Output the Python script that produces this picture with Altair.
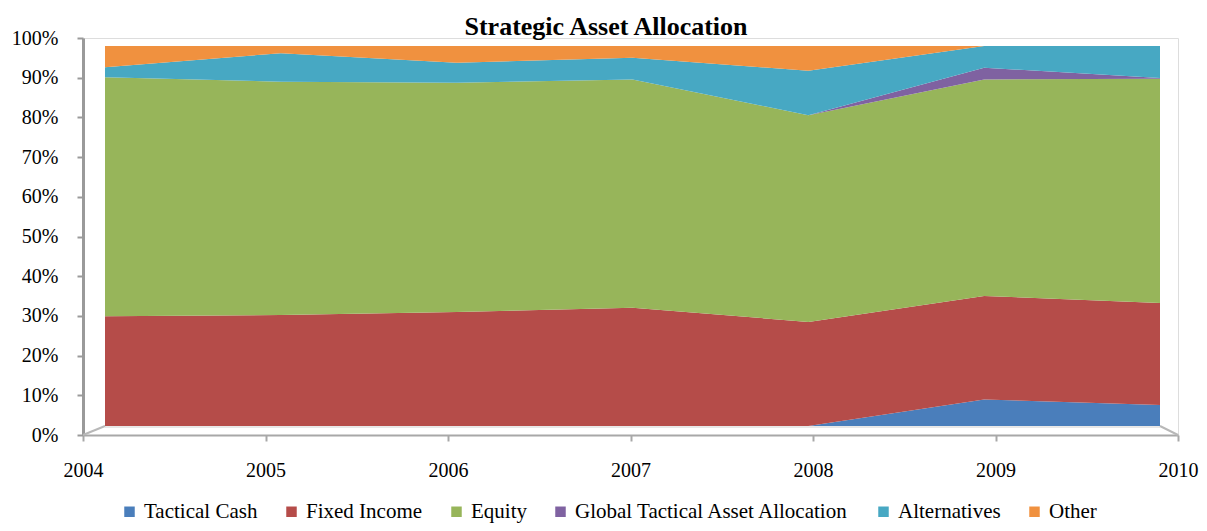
import altair as alt
import pandas as pd

# ---- data ----
years = [2004, 2005, 2006, 2007, 2008, 2009, 2010]
series = ["Tactical Cash", "Fixed Income", "Equity",
          "Global Tactical Asset Allocation", "Alternatives", "Other"]
tactical_cash = [0.0, 0.0, 0.0, 0.0, 0.0, 7.0, 5.5]
fixed_income = [28.9, 29.2, 30.0, 31.1, 27.4, 27.2, 26.9]
equity = [62.9, 61.4, 60.3, 60.1, 54.4, 57.0, 59.0]
gtaa = [0.0, 0.0, 0.0, 0.0, 0.0, 3.1, 0.2]
alternatives = [2.6, 7.5, 5.3, 5.7, 11.7, 5.7, 8.4]
other = [5.6, 1.9, 4.4, 3.1, 6.5, 0.0, 0.0]
colors = ["#4a7ebb", "#b54c49", "#97b55a", "#7f62a1", "#47a8c3", "#f0913f"]
y_ticks = [0, 10, 20, 30, 40, 50, 60, 70, 80, 90, 100]
title_text = "Strategic Asset Allocation"

values = [tactical_cash, fixed_income, equity, gtaa, alternatives, other]
rows = []
for i, (name, vals) in enumerate(zip(series, values)):
    for yr, v in zip(years, vals):
        rows.append({"year": yr, "series": name, "value": v, "idx": i})
df = pd.DataFrame(rows)

FONT = "Liberation Serif"
W, H = 1095, 397

# stacked areas drawn on the "back wall" of the 3-D plot
area = alt.Chart(df).mark_area(opacity=1).encode(
    x=alt.X("year:Q", axis=None,
            scale=alt.Scale(domain=[2004, 2010], range=[22, 1077], nice=False, zero=False)),
    y=alt.Y("value:Q", stack="normalize", axis=None,
            scale=alt.Scale(domain=[0, 1], range=[388, 8], nice=False)),
    color=alt.Color("series:N",
                    scale=alt.Scale(domain=series, range=colors),
                    sort=series,
                    legend=alt.Legend(
                        title=None, orient="none", direction="horizontal",
                        legendX=36, legendY=463, padding=0,
                        symbolType="square", symbolSize=110, symbolStrokeWidth=0,
                        labelFont=FONT, labelFontSize=21, labelColor="black",
                        labelOffset=4, labelLimit=400, columnPadding=23)),
    order=alt.Order("idx:Q", sort="ascending"),
)

# front axes (invisible points only carry the scales)
axes = alt.Chart(df).mark_point(opacity=0).encode(
    x=alt.X("year:Q",
            scale=alt.Scale(domain=[2004, 2010], nice=False, zero=False),
            axis=alt.Axis(values=years, format="d", title=None, grid=False,
                          labelFlush=False,
                          domainColor="#a8a8a8", domainWidth=2,
                          tickColor="#a8a8a8", tickWidth=2, tickSize=6,
                          labelFont=FONT, labelFontSize=20, labelColor="black",
                          labelPadding=19)),
    y=alt.Y("value:Q",
            scale=alt.Scale(domain=[0, 100], nice=False),
            axis=alt.Axis(values=y_ticks, labelExpr="datum.value + '%'", title=None,
                          grid=False, domainColor="#9a9a9a", domainWidth=3,
                          tickColor="#9a9a9a", tickWidth=2, tickSize=6,
                          labelFont=FONT, labelFontSize=20, labelColor="black",
                          labelPadding=19)),
)

deco = pd.DataFrame([{"k": 0}])
floor_left = alt.Chart(deco).mark_rule(color="#b8b8b8", strokeWidth=2).encode(
    x=alt.value(0), x2=alt.value(22), y=alt.value(H), y2=alt.value(388))
floor_right = alt.Chart(deco).mark_rule(color="#b8b8b8", strokeWidth=2).encode(
    x=alt.value(1077), x2=alt.value(W), y=alt.value(388), y2=alt.value(H))
floor_back = alt.Chart(deco).mark_rule(color="#d0d0d0", strokeWidth=1).encode(
    x=alt.value(22), x2=alt.value(1077), y=alt.value(389), y2=alt.value(389))

title = alt.Chart(deco).mark_text(
    text=title_text, font=FONT, fontSize=26, fontWeight="bold", color="black",
    align="center", baseline="alphabetic"
).encode(x=alt.value(523), y=alt.value(-3))

chart = alt.layer(floor_back, floor_left, floor_right, axes, area, title).resolve_scale(
    x="independent", y="independent"
).properties(
    width=W, height=H,
    autosize=alt.AutoSizeParams(type="none"),
    padding={"left": 75, "top": 30, "right": 21, "bottom": 88},
).configure_view(stroke=None).configure(background="white")

chart.save("out.html", embed_options={"renderer": "svg", "actions": False})
